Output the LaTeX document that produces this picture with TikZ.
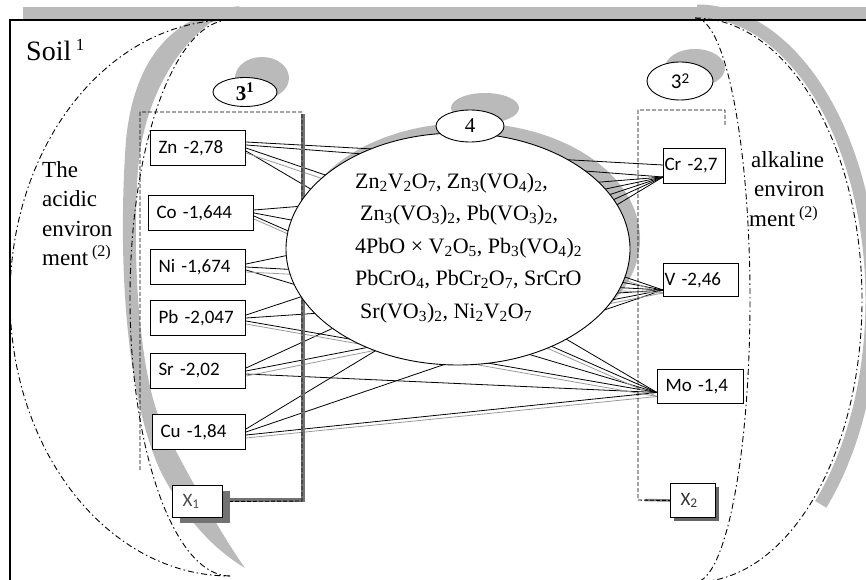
\documentclass[tikz,border=0pt]{standalone}
\usepackage{fontspec}
\setmainfont{Liberation Serif}
\newfontfamily\calib{Carlito}
\usetikzlibrary{calc,shadows,shapes.geometric}
\pgfdeclarelayer{back}
\pgfdeclarelayer{wires}
\pgfsetlayers{back,wires,main}

\begin{document}
\begin{tikzpicture}[x=1pt, y=-1pt,
  elbox/.style={draw, line width=1pt, fill=white, anchor=north west, align=left,
    inner xsep=8pt, inner ysep=0pt, minimum height=35pt,
    font=\calib\fontsize{19}{19}\selectfont},
  tagell/.style={ellipse, draw, line width=0.9pt, fill=white, inner sep=0pt},
  envline/.style={line width=0.9pt, dash pattern=on 6pt off 3pt on 1.5pt off 3pt},
  grpline/.style={line width=0.9pt, dash pattern=on 4pt off 2pt},
  link/.style={line width=0.8pt},
  glink/.style={line width=0.8pt, black!40},
  greyband/.style={fill=black!27},
]
\useasboundingbox (0,0) rectangle (866,580);

% ================= BACKGROUND: SOIL, ENVIRONMENTS =================
\begin{pgfonlayer}{back}
\clip (0,0) rectangle (866,580);
\fill[greyband] (23,7) rectangle (866,19);
\fill[greyband] (240,6) .. controls (180,13) and (135,50) .. (126,140)
  .. controls (118,250) and (124,390) .. (160,470)
  .. controls (185,520) and (215,550) .. (245,568)
  .. controls (225,540) and (190,480) .. (160,420)
  .. controls (138,365) and (132,250) .. (138,170)
  .. controls (143,100) and (180,30) .. (240,6) -- cycle;
\draw[black!27, line width=13pt] (697,11) arc[start angle=-90, end angle=45, x radius=175, y radius=289];
\draw[line width=1.1pt] (10,580) -- (10,20) -- (866,20);

% acidic / alkaline borders
\draw[envline] (230,20) arc[start angle=270, end angle=90, x radius=220, y radius=278];
\draw[envline] (230,20) arc[start angle=270, end angle=90, x radius=100, y radius=278];
\draw[envline] (695,18) arc[start angle=-90, end angle=90, x radius=167, y radius=282];
\draw[envline] (695,18) arc[start angle=-90, end angle=90, x radius=55, y radius=282];

% shadows of the ovals
\fill[greyband] (468,239) ellipse [x radius=172, y radius=116];
\fill[greyband] (262,78) ellipse [x radius=27, y radius=21];
\fill[greyband] (695,68) ellipse [x radius=30, y radius=19];
\fill[greyband] (485,108) ellipse [x radius=34, y radius=15];
\end{pgfonlayer}

% ================= ELEMENTS =================
\node[elbox, text width=79pt] (zn) at (150,130) {Zn -2,78};
\node[elbox, text width=89pt] (co) at (148,195) {Co -1,644};
\node[elbox, text width=79pt] (ni) at (150,249) {Ni -1,674};
\node[elbox, text width=79pt] (pb) at (150,300) {Pb -2,047};
\node[elbox, text width=79pt] (sr) at (150,353) {Sr -2,02};
\node[elbox, text width=77pt] (cu) at (152,414) {Cu -1,84};

\node[elbox, inner xsep=1pt, text width=60pt] (cr) at (663,148) {Cr -2,7};
\node[elbox, inner xsep=1pt, text width=73pt, minimum height=33pt] (v) at (663,263) {V -2,46};
\node[elbox, text width=70pt, minimum height=34pt] (mo) at (657,369) {Mo -1,4};

\node[elbox, inner xsep=10pt, text width=30pt, minimum height=32pt, text=black!70,
  drop shadow={shadow xshift=7pt, shadow yshift=-5pt, fill=black!55, opacity=1}] (x1) at (172,485) {X\textsubscript{1}};
\node[elbox, inner xsep=10pt, text width=25pt, minimum height=34pt, text=black!80,
  drop shadow={shadow xshift=3pt, shadow yshift=-3pt, fill=black!60, opacity=1}] (x2) at (670,483) {X\textsubscript{2}};

% ================= COMPOUNDS =================
\node[tagell, minimum width=344pt, minimum height=232pt] (mix) at (458,249) {};
\node[anchor=west, align=left, inner sep=0pt, font=\fontsize{22}{32.5}\selectfont] (mixtext) at (355,248)
  {Zn\textsubscript{2}V\textsubscript{2}O\textsubscript{7}, Zn\textsubscript{3}(VO\textsubscript{4})\textsubscript{2},\\
   \hspace*{5pt}Zn\textsubscript{3}(VO\textsubscript{3})\textsubscript{2}, Pb(VO\textsubscript{3})\textsubscript{2},\\
   4PbO × V\textsubscript{2}O\textsubscript{5}, Pb\textsubscript{3}(VO\textsubscript{4})\textsubscript{2}\\
   PbCrO\textsubscript{4}, PbCr\textsubscript{2}O\textsubscript{7}, SrCrO\\
   \hspace*{5pt}Sr(VO\textsubscript{3})\textsubscript{2}, Ni\textsubscript{2}V\textsubscript{2}O\textsubscript{7}};

\node[tagell, minimum width=68pt, minimum height=32pt, font=\fontsize{21}{21}\selectfont] (t4) at (470,126) {4};
\node[tagell, minimum width=64pt, minimum height=29pt, font=\bfseries\fontsize{21}{21}\selectfont] (t31) at (245,92) {3\textsuperscript{1}};
\node[tagell, minimum width=66pt, minimum height=38pt, font=\calib\fontsize{21}{21}\selectfont] (t32) at (680,81) {3\raisebox{5pt}{\fontsize{15}{15}\selectfont 2}};

% ================= LINKS =================
\begin{pgfonlayer}{wires}
\foreach \src in {zn,co,ni,pb,sr,cu}{
  \draw[link] ($(\src.east)+(0,-3)$) -- ($(cr.west)+(0,11)$);
  \draw[link] (\src.east) -- ($(v.west)+(0,10)$);
  \draw[link] ($(\src.east)+(0,3)$) -- ($(mo.west)+(0,6)$);
}
\foreach \src in {zn,ni,sr}
  \draw[glink] ($(\src.east)+(0,5)$) -- ($(v.west)+(0,13)$);
\foreach \src in {co,pb,cu}
  \draw[glink] ($(\src.east)+(0,6)$) -- ($(mo.west)+(0,10)$);
\draw[link] ($(zn.east)+(0,-6)$) -- ($(cr.west)+(0,-1)$);

% group frames
\draw[black!55, line width=4.5pt] (x1.east |- 0,500) -- (303,500) -- (303,114);
\draw[grpline] (x1.east) -- (302,501) -- (302,112) -- (140,112) -- (140,470);
\draw[black!50, line width=2.5pt] (645,500) -- (x2.west);
\draw[grpline] (725,125) -- (725,110) -- (638,110) -- (638,500) -- (x2.west);
\end{pgfonlayer}

% ================= TEXTS =================
\node[anchor=base west, inner sep=0pt, font=\fontsize{28}{28}\selectfont] (soil) at (26,61)
  {Soil\,\raisebox{10pt}{\fontsize{17}{17}\selectfont 1}};
\node[anchor=north west, align=left, inner sep=0pt, font=\fontsize{23}{29.5}\selectfont] (acid) at (42,161)
  {The\\acidic\\environ\\ment\,\textsuperscript{(2)}};
\node[anchor=north west, align=left, inner sep=0pt, font=\fontsize{23}{29.5}\selectfont] (alk) at (749,151)
  {\hspace*{2pt}alkaline\\\hspace*{5pt}environ\\ment\,\textsuperscript{(2)}};
\end{tikzpicture}
\end{document}
